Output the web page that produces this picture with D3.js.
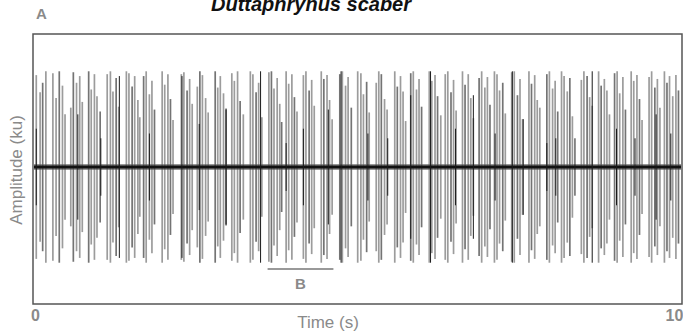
<!DOCTYPE html>
<html>
<head>
<meta charset="utf-8">
<script src="https://cdn.jsdelivr.net/npm/d3@7"></script>
<style>
  html, body { margin: 0; padding: 0; background: #fff; }
  svg { display: block; }
</style>
</head>
<body>
<svg id="chart" width="683" height="335"></svg>
<script>
// Oscillogram of an advertisement call: pulse onsets (s) and peak amplitudes (ku)
const pulseTimes = [
  0.02, 0.08, 0.12, 0.17,
  0.28, 0.33, 0.38, 0.43, 0.47,
  0.56, 0.60, 0.65, 0.70, 0.74,
  0.84, 0.88, 0.93, 0.97, 1.02,
  1.13, 1.18, 1.22, 1.27, 1.31,
  1.43, 1.47, 1.52, 1.56, 1.61, 1.64,
  1.70, 1.74, 1.79, 1.83, 1.87,
  1.99, 2.03, 2.08, 2.12, 2.16,
  2.29, 2.33, 2.38, 2.42, 2.46,
  2.54, 2.58, 2.62, 2.67, 2.71,
  2.82, 2.86, 2.90, 2.95, 2.99,
  3.08, 3.12, 3.17, 3.21, 3.26,
  3.37, 3.41, 3.46, 3.50, 3.55,
  3.66, 3.70, 3.74, 3.79, 3.83, 3.86,
  3.93, 3.97, 4.02, 4.06, 4.10,
  4.20, 4.24, 4.29, 4.33, 4.37,
  4.48, 4.52, 4.57, 4.61, 4.65,
  4.77, 4.81, 4.86, 4.90, 4.95,
  5.05, 5.10, 5.14, 5.19, 5.23,
  5.34, 5.38, 5.42, 5.47, 5.51,
  5.63, 5.67, 5.72, 5.76, 5.80,
  5.88, 5.92, 5.97, 6.01, 6.05,
  6.17, 6.21, 6.26, 6.30, 6.35,
  6.42, 6.46, 6.51, 6.55, 6.59,
  6.69, 6.73, 6.78, 6.82, 6.86,
  6.95, 6.99, 7.04, 7.08, 7.12,
  7.19, 7.23, 7.27, 7.32, 7.36,
  7.46, 7.50, 7.55, 7.59, 7.63,
  7.73, 7.77, 7.82, 7.86, 7.90,
  8.01, 8.05, 8.10, 8.14, 8.18,
  8.24, 8.28, 8.33, 8.37, 8.41,
  8.55, 8.59, 8.64, 8.68, 8.72,
  8.82, 8.86, 8.91, 8.95, 8.99,
  9.07, 9.11, 9.15, 9.20, 9.24,
  9.33, 9.37, 9.42, 9.46, 9.50,
  9.61, 9.65, 9.70, 9.74, 9.78,
  9.85, 9.89, 9.93, 9.98, 10.03, 10.07
];
const pulseAmps = [
  0.96, 0.78, 0.88, 1.00,
  0.98, 0.72, 1.00, 0.85, 0.55,
  0.62, 0.99, 0.88, 0.95, 0.68,
  1.00, 0.81, 0.97, 0.74, 0.58,
  0.97, 1.00, 0.79, 0.93, 0.63,
  1.00, 0.98, 0.84, 0.95, 0.70, 0.52,
  0.95, 1.00, 0.76, 0.90, 0.60,
  1.00, 0.86, 0.97, 0.71, 0.49,
  0.97, 0.99, 0.80, 0.92, 0.66,
  0.84, 1.00, 0.96, 0.72, 0.57,
  1.00, 0.83, 0.95, 0.77, 0.61,
  0.98, 0.90, 1.00, 0.69, 0.55,
  1.00, 0.97, 0.78, 0.88, 0.52,
  0.99, 1.00, 0.82, 0.93, 0.66, 0.47,
  1.00, 0.87, 0.97, 0.73, 0.58,
  0.96, 1.00, 0.80, 0.91, 0.64,
  1.00, 0.92, 0.96, 0.70, 0.50,
  0.97, 1.00, 0.85, 0.94, 0.62,
  1.00, 0.98, 0.76, 0.89, 0.57,
  0.88, 1.00, 0.97, 0.71, 0.60,
  1.00, 0.84, 0.95, 0.79, 0.48,
  0.98, 1.00, 0.81, 0.92, 0.63,
  1.00, 0.90, 0.96, 0.74, 0.54,
  0.97, 1.00, 0.78, 0.91, 0.59,
  1.00, 0.86, 0.97, 0.72, 0.51,
  0.93, 1.00, 0.83, 0.94, 0.65,
  1.00, 0.97, 0.80, 0.88, 0.56,
  0.99, 1.00, 0.75, 0.92, 0.50,
  1.00, 0.87, 0.96, 0.70, 0.62,
  0.97, 1.00, 0.82, 0.90, 0.58,
  1.00, 0.95, 0.79, 0.93, 0.53,
  0.91, 1.00, 0.95, 0.73, 0.64,
  1.00, 0.85, 0.92, 0.80, 0.55,
  0.98, 1.00, 0.77, 0.94, 0.60,
  1.00, 0.90, 0.96, 0.71, 0.49,
  0.94, 1.00, 0.83, 0.92, 0.62,
  1.00, 0.88, 0.95, 0.74, 0.96, 0.80
];
// Strong single-cycle spikes that stand out darker from the pulse trains
const spikeTimes = [
  0.02, 0.67, 1.03, 1.32, 1.79, 2.30, 2.57, 2.99, 3.53, 3.93,
  4.20, 4.59, 4.79, 5.21, 5.52, 5.88, 6.19, 6.58, 6.86, 7.20,
  7.47, 7.64, 8.01, 8.15, 8.45, 8.72, 9.10, 9.39, 9.72, 9.95
];
const spikeAmps = [
  0.40, 0.55, 0.30, 0.95, 0.35, 0.95, 0.45, 0.60, 1.00, 0.25,
  0.40, 0.60, 1.00, 0.35, 0.30, 0.75, 1.00, 0.40, 0.75, 0.35,
  1.00, 0.50, 0.25, 0.30, 0.30, 1.00, 0.40, 0.30, 0.55, 0.35
];
const xTickValues = [0, 10];
const xTickLabels = ["0", "10"];

const svg = d3.select("#chart");
const box = { left: 33, right: 682, top: 34, bottom: 304 };
const font = "Liberation Sans, Arial, sans-serif";
const labelGrey = "#8a8a8a";

const x = d3.scaleLinear().domain([0, 10]).range([35, 674]);
const y = d3.scaleLinear().domain([-1.4, 1.4]).range([301, 33]);

const pulses = d3.zip(pulseTimes, pulseAmps);
const spikes = d3.zip(spikeTimes, spikeAmps);

svg.append("clipPath").attr("id", "plotClip")
  .append("rect")
  .attr("x", box.left + 1).attr("y", box.top + 1)
  .attr("width", box.right - box.left - 2).attr("height", box.bottom - box.top - 2);
const plot = svg.append("g").attr("clip-path", "url(#plotClip)");

// pulse envelopes (symmetric about zero)
plot.selectAll("line.pulse")
  .data(pulses)
  .join("line")
  .attr("class", "pulse")
  .attr("x1", d => x(d[0])).attr("x2", d => x(d[0]))
  .attr("y1", d => y(d[1])).attr("y2", d => y(-d[1]))
  .attr("stroke", (d, i) => (i % 4 === 2 ? "#747474" : "#9c9c9c"))
  .attr("stroke-width", 1.7);

// background noise band around zero
plot.append("line")
  .attr("x1", box.left).attr("x2", box.right)
  .attr("y1", y(0)).attr("y2", y(0))
  .attr("stroke", "#555").attr("stroke-width", 6).attr("stroke-opacity", 0.6);
plot.append("line")
  .attr("x1", box.left).attr("x2", box.right)
  .attr("y1", y(0)).attr("y2", y(0))
  .attr("stroke", "#111").attr("stroke-width", 3);

// dark spikes
plot.selectAll("line.spike")
  .data(spikes)
  .join("line")
  .attr("class", "spike")
  .attr("x1", d => x(d[0])).attr("x2", d => x(d[0]))
  .attr("y1", d => y(d[1])).attr("y2", d => y(-d[1]))
  .attr("stroke", "#1a1a1a")
  .attr("stroke-width", 1);

// frame
svg.append("rect")
  .attr("x", box.left).attr("y", box.top)
  .attr("width", box.right - box.left).attr("height", box.bottom - box.top)
  .attr("fill", "none").attr("stroke", "#555").attr("stroke-width", 1.5);

// time axis labels
const xAxis = d3.axisBottom(x)
  .tickValues(xTickValues)
  .tickFormat((d, i) => xTickLabels[i])
  .tickSize(0).tickPadding(0);
const gx = svg.append("g").attr("transform", `translate(0,${box.bottom + 6})`).call(xAxis);
gx.select(".domain").remove();
gx.selectAll("text")
  .attr("fill", labelGrey)
  .attr("font-family", font)
  .attr("font-size", 16).attr("font-weight", "bold");

svg.append("text")
  .attr("x", 328).attr("y", 328)
  .attr("text-anchor", "middle")
  .attr("font-family", font)
  .attr("font-size", 17).attr("fill", labelGrey)
  .text("Time (s)");

svg.append("text")
  .attr("transform", "translate(22,170) rotate(-90)")
  .attr("text-anchor", "middle")
  .attr("font-family", font)
  .attr("font-size", 17).attr("fill", labelGrey)
  .text("Amplitude (ku)");

// panel letter and species title
svg.append("text")
  .attr("x", 36).attr("y", 19)
  .attr("font-family", font)
  .attr("font-size", 15).attr("font-weight", "bold").attr("fill", labelGrey)
  .text("A");

svg.append("text")
  .attr("x", 311).attr("y", 11)
  .attr("text-anchor", "middle")
  .attr("font-family", font)
  .attr("font-size", 20).attr("font-weight", "bold").attr("font-style", "italic")
  .attr("fill", "#111")
  .text("Duttaphrynus scaber");

// marker for the section expanded in panel B
const bStart = 3.64, bEnd = 4.67;
svg.append("line")
  .attr("x1", x(bStart)).attr("x2", x(bEnd))
  .attr("y1", 269).attr("y2", 269)
  .attr("stroke", "#999").attr("stroke-width", 2);
svg.append("text")
  .attr("x", x((bStart + bEnd) / 2)).attr("y", 289)
  .attr("text-anchor", "middle")
  .attr("font-family", font)
  .attr("font-size", 15).attr("font-weight", "bold").attr("fill", labelGrey)
  .text("B");
</script>
</body>
</html>
